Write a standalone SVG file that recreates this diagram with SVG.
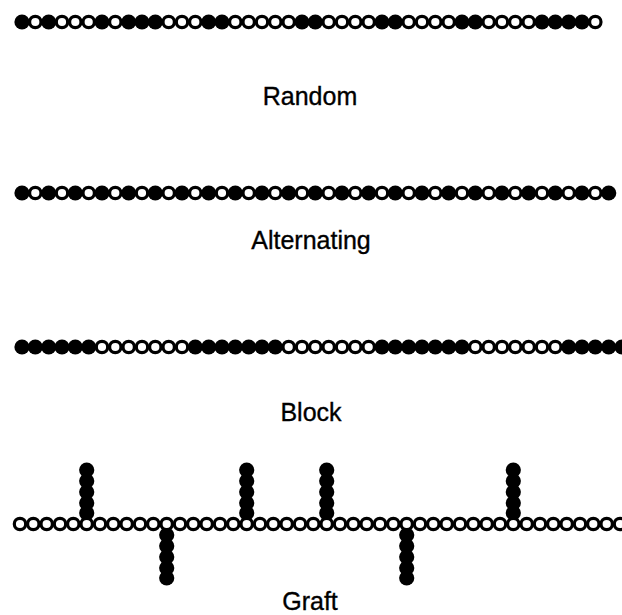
<svg xmlns="http://www.w3.org/2000/svg" xmlns:xlink="http://www.w3.org/1999/xlink" width="622" height="615" viewBox="0 0 622 615">
<style>
.lbl{font-family:"Liberation Sans",Arial,sans-serif;font-size:25px;fill:#000;stroke:#000;stroke-width:0.35;text-anchor:middle}
</style>
<defs>
<circle id="b" r="7.6" fill="#000"/>
<circle id="w" r="5.7" fill="#fff" stroke="#000" stroke-width="3.2"/>
</defs>
<rect width="622" height="615" fill="#fff"/>
<g id="random">
<use href="#b" x="22.0" y="22"/><use href="#w" x="35.3" y="22"/><use href="#b" x="48.7" y="22"/><use href="#w" x="62.0" y="22"/><use href="#w" x="75.3" y="22"/><use href="#w" x="88.7" y="22"/><use href="#b" x="102.0" y="22"/><use href="#w" x="115.3" y="22"/><use href="#b" x="128.7" y="22"/><use href="#b" x="142.0" y="22"/><use href="#b" x="155.3" y="22"/><use href="#w" x="168.7" y="22"/><use href="#w" x="182.0" y="22"/><use href="#w" x="195.3" y="22"/><use href="#b" x="208.7" y="22"/><use href="#b" x="222.0" y="22"/><use href="#w" x="235.3" y="22"/><use href="#w" x="248.7" y="22"/><use href="#w" x="262.0" y="22"/><use href="#w" x="275.3" y="22"/><use href="#w" x="288.7" y="22"/><use href="#b" x="302.0" y="22"/><use href="#b" x="315.3" y="22"/><use href="#w" x="328.7" y="22"/><use href="#w" x="342.0" y="22"/><use href="#w" x="355.3" y="22"/><use href="#w" x="368.7" y="22"/><use href="#b" x="382.0" y="22"/><use href="#b" x="395.3" y="22"/><use href="#w" x="408.7" y="22"/><use href="#w" x="422.0" y="22"/><use href="#w" x="435.3" y="22"/><use href="#w" x="448.7" y="22"/><use href="#b" x="462.0" y="22"/><use href="#b" x="475.3" y="22"/><use href="#w" x="488.7" y="22"/><use href="#w" x="502.0" y="22"/><use href="#w" x="515.3" y="22"/><use href="#w" x="528.7" y="22"/><use href="#b" x="542.0" y="22"/><use href="#b" x="555.3" y="22"/><use href="#b" x="568.7" y="22"/><use href="#b" x="582.0" y="22"/><use href="#w" x="595.3" y="22"/>
</g>
<text class="lbl" x="310" y="105">Random</text>
<g id="alternating">
<use href="#b" x="22.0" y="193"/><use href="#w" x="35.3" y="193"/><use href="#b" x="48.7" y="193"/><use href="#w" x="62.0" y="193"/><use href="#b" x="75.3" y="193"/><use href="#w" x="88.7" y="193"/><use href="#b" x="102.0" y="193"/><use href="#w" x="115.3" y="193"/><use href="#b" x="128.7" y="193"/><use href="#w" x="142.0" y="193"/><use href="#b" x="155.3" y="193"/><use href="#w" x="168.7" y="193"/><use href="#b" x="182.0" y="193"/><use href="#w" x="195.3" y="193"/><use href="#b" x="208.7" y="193"/><use href="#w" x="222.0" y="193"/><use href="#b" x="235.3" y="193"/><use href="#w" x="248.7" y="193"/><use href="#b" x="262.0" y="193"/><use href="#w" x="275.3" y="193"/><use href="#b" x="288.7" y="193"/><use href="#w" x="302.0" y="193"/><use href="#b" x="315.3" y="193"/><use href="#w" x="328.7" y="193"/><use href="#b" x="342.0" y="193"/><use href="#w" x="355.3" y="193"/><use href="#b" x="368.7" y="193"/><use href="#w" x="382.0" y="193"/><use href="#b" x="395.3" y="193"/><use href="#w" x="408.7" y="193"/><use href="#b" x="422.0" y="193"/><use href="#w" x="435.3" y="193"/><use href="#b" x="448.7" y="193"/><use href="#w" x="462.0" y="193"/><use href="#b" x="475.3" y="193"/><use href="#w" x="488.7" y="193"/><use href="#b" x="502.0" y="193"/><use href="#w" x="515.3" y="193"/><use href="#b" x="528.7" y="193"/><use href="#w" x="542.0" y="193"/><use href="#b" x="555.3" y="193"/><use href="#w" x="568.7" y="193"/><use href="#b" x="582.0" y="193"/><use href="#w" x="595.3" y="193"/><use href="#b" x="608.7" y="193"/>
</g>
<text class="lbl" x="311" y="249">Alternating</text>
<g id="block">
<use href="#b" x="22.0" y="347"/><use href="#b" x="35.3" y="347"/><use href="#b" x="48.7" y="347"/><use href="#b" x="62.0" y="347"/><use href="#b" x="75.3" y="347"/><use href="#b" x="88.7" y="347"/><use href="#w" x="102.0" y="347"/><use href="#w" x="115.3" y="347"/><use href="#w" x="128.7" y="347"/><use href="#w" x="142.0" y="347"/><use href="#w" x="155.3" y="347"/><use href="#w" x="168.7" y="347"/><use href="#w" x="182.0" y="347"/><use href="#b" x="195.3" y="347"/><use href="#b" x="208.7" y="347"/><use href="#b" x="222.0" y="347"/><use href="#b" x="235.3" y="347"/><use href="#b" x="248.7" y="347"/><use href="#b" x="262.0" y="347"/><use href="#b" x="275.3" y="347"/><use href="#w" x="288.7" y="347"/><use href="#w" x="302.0" y="347"/><use href="#w" x="315.3" y="347"/><use href="#w" x="328.7" y="347"/><use href="#w" x="342.0" y="347"/><use href="#w" x="355.3" y="347"/><use href="#w" x="368.7" y="347"/><use href="#b" x="382.0" y="347"/><use href="#b" x="395.3" y="347"/><use href="#b" x="408.7" y="347"/><use href="#b" x="422.0" y="347"/><use href="#b" x="435.3" y="347"/><use href="#b" x="448.7" y="347"/><use href="#b" x="462.0" y="347"/><use href="#w" x="475.3" y="347"/><use href="#w" x="488.7" y="347"/><use href="#w" x="502.0" y="347"/><use href="#w" x="515.3" y="347"/><use href="#w" x="528.7" y="347"/><use href="#w" x="542.0" y="347"/><use href="#w" x="555.3" y="347"/><use href="#b" x="568.7" y="347"/><use href="#b" x="582.0" y="347"/><use href="#b" x="595.3" y="347"/><use href="#b" x="608.7" y="347"/><use href="#b" x="622.0" y="347"/>
</g>
<text class="lbl" x="311" y="421">Block</text>
<g id="graft">
<g id="branches">
<use href="#b" x="86.7" y="470"/><use href="#b" x="86.7" y="481"/><use href="#b" x="86.7" y="492"/><use href="#b" x="86.7" y="503"/><use href="#b" x="86.7" y="513"/>
<use href="#b" x="246.7" y="470"/><use href="#b" x="246.7" y="481"/><use href="#b" x="246.7" y="492"/><use href="#b" x="246.7" y="503"/><use href="#b" x="246.7" y="513"/>
<use href="#b" x="326.7" y="470"/><use href="#b" x="326.7" y="481"/><use href="#b" x="326.7" y="492"/><use href="#b" x="326.7" y="503"/><use href="#b" x="326.7" y="513"/>
<use href="#b" x="513.3" y="470"/><use href="#b" x="513.3" y="481"/><use href="#b" x="513.3" y="492"/><use href="#b" x="513.3" y="503"/><use href="#b" x="513.3" y="513"/>
<use href="#b" x="166.7" y="535"/><use href="#b" x="166.7" y="546"/><use href="#b" x="166.7" y="557"/><use href="#b" x="166.7" y="568"/><use href="#b" x="166.7" y="578"/>
<use href="#b" x="406.7" y="535"/><use href="#b" x="406.7" y="546"/><use href="#b" x="406.7" y="557"/><use href="#b" x="406.7" y="568"/><use href="#b" x="406.7" y="578"/>
</g>
<g id="backbone">
<use href="#w" x="20.0" y="524"/><use href="#w" x="33.3" y="524"/><use href="#w" x="46.7" y="524"/><use href="#w" x="60.0" y="524"/><use href="#w" x="73.3" y="524"/><use href="#w" x="86.7" y="524"/><use href="#w" x="100.0" y="524"/><use href="#w" x="113.3" y="524"/><use href="#w" x="126.7" y="524"/><use href="#w" x="140.0" y="524"/><use href="#w" x="153.3" y="524"/><use href="#w" x="166.7" y="524"/><use href="#w" x="180.0" y="524"/><use href="#w" x="193.3" y="524"/><use href="#w" x="206.7" y="524"/><use href="#w" x="220.0" y="524"/><use href="#w" x="233.3" y="524"/><use href="#w" x="246.7" y="524"/><use href="#w" x="260.0" y="524"/><use href="#w" x="273.3" y="524"/><use href="#w" x="286.7" y="524"/><use href="#w" x="300.0" y="524"/><use href="#w" x="313.3" y="524"/><use href="#w" x="326.7" y="524"/><use href="#w" x="340.0" y="524"/><use href="#w" x="353.3" y="524"/><use href="#w" x="366.7" y="524"/><use href="#w" x="380.0" y="524"/><use href="#w" x="393.3" y="524"/><use href="#w" x="406.7" y="524"/><use href="#w" x="420.0" y="524"/><use href="#w" x="433.3" y="524"/><use href="#w" x="446.7" y="524"/><use href="#w" x="460.0" y="524"/><use href="#w" x="473.3" y="524"/><use href="#w" x="486.7" y="524"/><use href="#w" x="500.0" y="524"/><use href="#w" x="513.3" y="524"/><use href="#w" x="526.7" y="524"/><use href="#w" x="540.0" y="524"/><use href="#w" x="553.3" y="524"/><use href="#w" x="566.7" y="524"/><use href="#w" x="580.0" y="524"/><use href="#w" x="593.3" y="524"/><use href="#w" x="606.7" y="524"/><use href="#w" x="620.0" y="524"/>
</g>
</g>
<text class="lbl" x="310" y="610">Graft</text>
</svg>
